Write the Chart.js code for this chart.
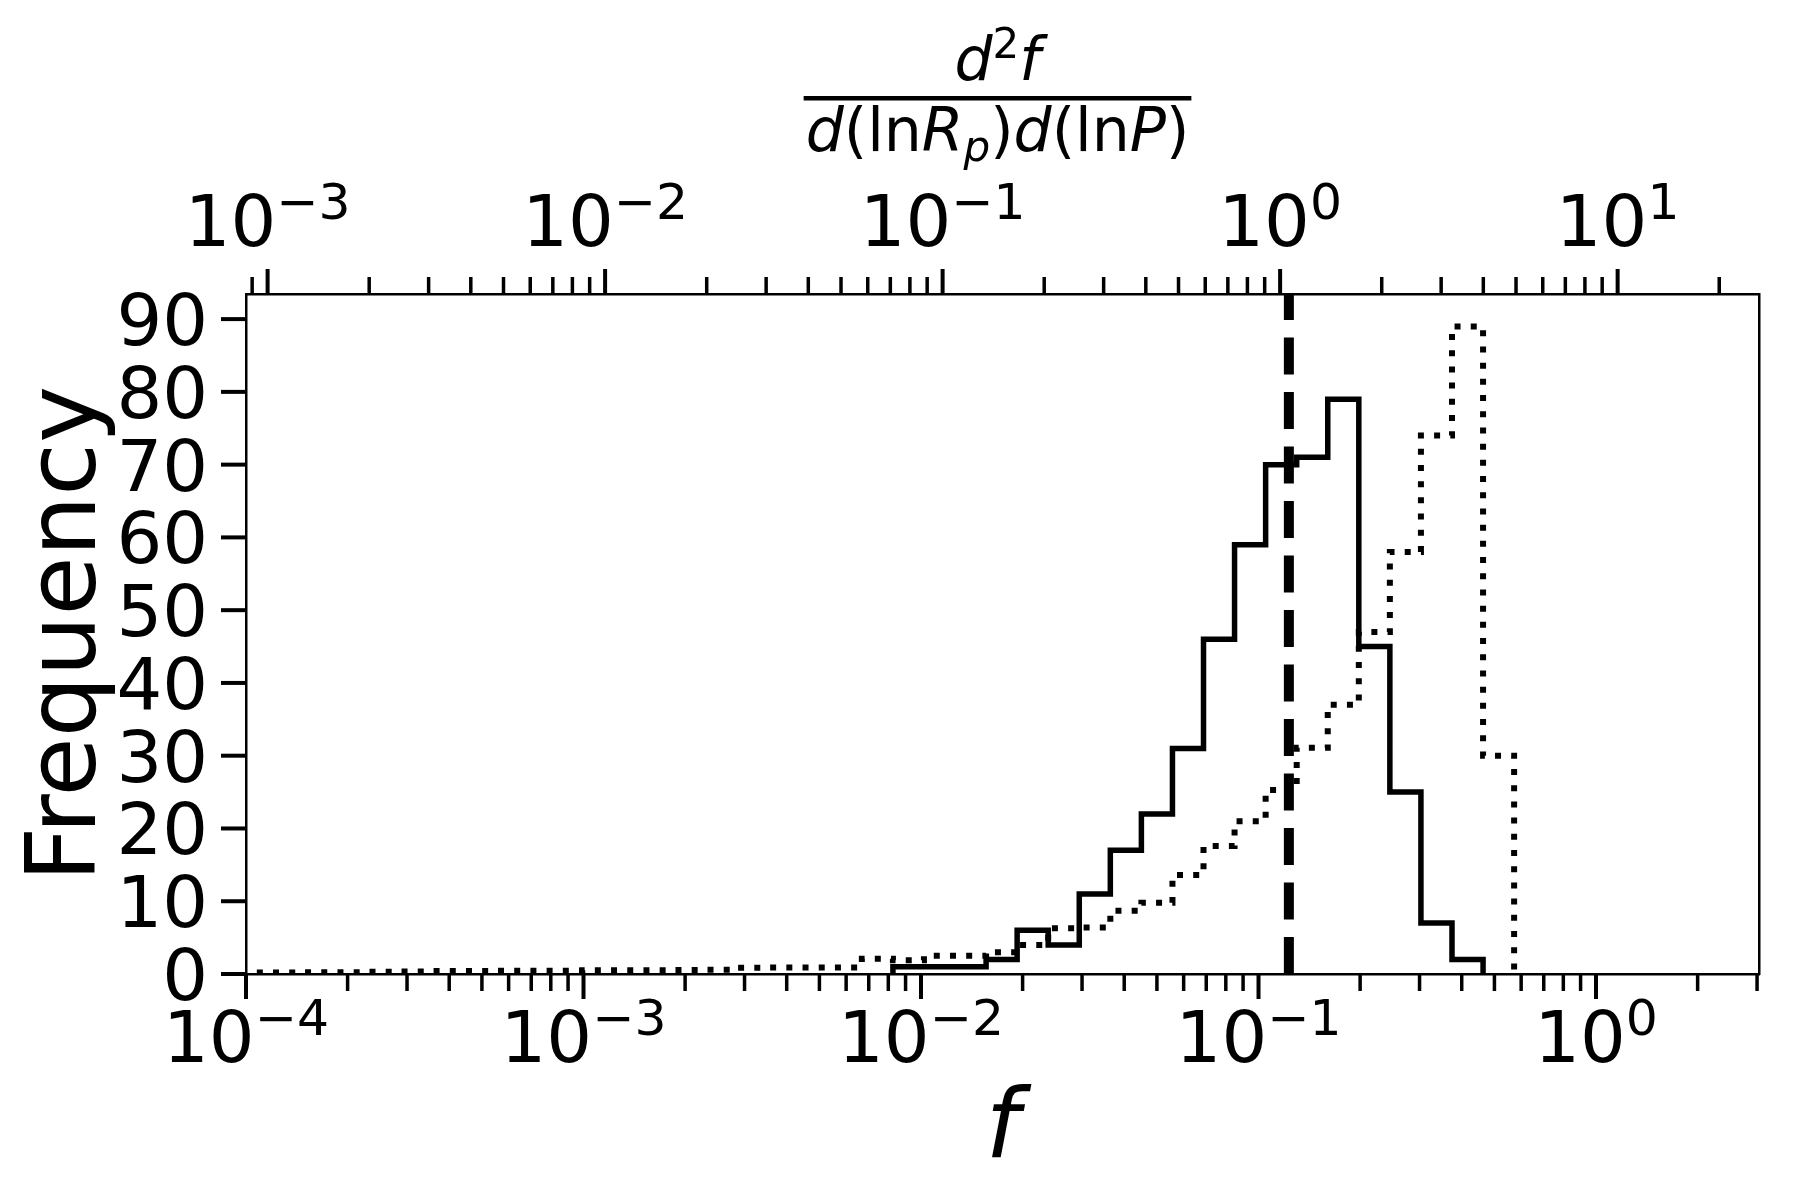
<!DOCTYPE html>
<html>
<head>
<meta charset="utf-8">
<script src="https://cdn.jsdelivr.net/npm/chart.js"></script>
<style>
  html, body { margin: 0; padding: 0; background: #ffffff; }
  #wrap { width: 1800px; height: 1200px; position: relative; background: #ffffff; }
  canvas { display: block; }
</style>
</head>
<body>
<div id="wrap"><canvas id="c" width="1800" height="1200"></canvas></div>
<script>
// ---------------- DATA ----------------
// logarithmic bin edges of f (42 edges -> 41 bins)
const binEdges = [
  9.64e-5, 1.192e-4, 1.473e-4, 1.821e-4, 2.250e-4, 2.781e-4, 3.437e-4, 4.249e-4,
  5.252e-4, 6.492e-4, 8.025e-4, 9.917e-4, 1.2257e-3, 1.5152e-3, 1.8728e-3, 2.3147e-3,
  2.861e-3, 3.537e-3, 4.372e-3, 5.404e-3, 6.679e-3, 8.256e-3, 1.0202e-2, 1.2612e-2,
  1.5589e-2, 1.9268e-2, 2.3814e-2, 2.9437e-2, 3.6384e-2, 4.497e-2, 5.559e-2, 6.871e-2,
  8.492e-2, 1.0498e-1, 1.2975e-1, 1.6037e-1, 1.9822e-1, 2.45e-1, 3.0283e-1, 3.7431e-1,
  4.627e-1, 5.7188e-1
];
// solid histogram (counts per bin, null = no bin drawn)
const solidCounts = [
  null, null, null, null, null, null, null, null, null, null, null,
  null, null, null, null, null, null, null, null, null, null,
  1, 1, 1, 2, 6, 4, 11, 17, 22, 31, 46, 59, 70, 71, 79, 45, 25, 7, 2,
  null
];
// dotted histogram (weighted counts per bin)
const dottedCounts = [
  0.2, 0.2, 0.25, 0.25, 0.3, 0.35, 0.4, 0.4, 0.45, 0.45, 0.45, 0.5, 0.5, 0.5, 0.55, 0.6,
  0.85, 0.9, 0.9, 0.9,
  2.1, 1.9, 2.5, 2.5, 3.0, 4.0, 6.3, 6.4, 8.7, 9.8, 13.6, 17.6, 21.0, 25.3, 31.1, 37.0,
  47, 58, 74, 89, 30
];
// vertical dashed reference line (in f)
const dashedLineF = [0.123];

// axis ranges
const xRange = [1e-4, 3.04];
const topScaleFactor = 8.63;      // top axis value = f * factor
const yRange = [0, 93.45];

// tick labels
const yTicks = [0, 10, 20, 30, 40, 50, 60, 70, 80, 90];
const bottomMajorTicks = [1e-4, 1e-3, 1e-2, 1e-1, 1e0];
const bottomTickExponents = ['\u22124', '\u22123', '\u22122', '\u22121', '0'];
const topMajorTicks = [1e-3, 1e-2, 1e-1, 1e0, 1e1];
const topTickExponents = ['\u22123', '\u22122', '\u22121', '0', '1'];
const yAxisTitle = 'Frequency';
const xAxisTitle = 'f';

// ---------------- helpers ----------------
function stepPoints(edges, counts) {
  let i0 = -1, i1 = -1;
  for (let i = 0; i < counts.length; i++) {
    if (counts[i] !== null && counts[i] !== undefined) { if (i0 < 0) i0 = i; i1 = i; }
  }
  const pts = [{ x: edges[i0], y: 0 }];
  for (let i = i0; i <= i1; i++) pts.push({ x: edges[i], y: counts[i] });
  pts.push({ x: edges[i1 + 1], y: counts[i1] });
  pts.push({ x: edges[i1 + 1], y: 0 });
  return pts;
}

const FONT = '"DejaVu Sans"';

function drawPow10(ctx, x, baseY, exp, size) {
  const small = size * 0.7;
  ctx.font = size + 'px ' + FONT;
  const w1 = ctx.measureText('10').width;
  ctx.font = small + 'px ' + FONT;
  const w2 = ctx.measureText(exp).width;
  const x0 = x - (w1 + w2) / 2;
  ctx.textAlign = 'left';
  ctx.textBaseline = 'alphabetic';
  ctx.font = size + 'px ' + FONT;
  ctx.fillText('10', x0, baseY);
  ctx.font = small + 'px ' + FONT;
  ctx.fillText(exp, x0 + w1, baseY - 0.38 * size);
}

function runFont(run, size) {
  const s = size * (run[2] || 1);
  return (run[1] === 'i' ? 'italic ' : '') + s + 'px ' + FONT;
}
function runsWidth(ctx, runs, size) {
  let w = 0;
  for (const r of runs) { ctx.font = runFont(r, size); w += ctx.measureText(r[0]).width; }
  return w;
}
function drawRuns(ctx, runs, cx, baseY, size) {
  const w = runsWidth(ctx, runs, size);
  let x = cx - w / 2;
  ctx.textAlign = 'left';
  ctx.textBaseline = 'alphabetic';
  for (const r of runs) {
    ctx.font = runFont(r, size);
    ctx.fillText(r[0], x, baseY + (r[3] || 0));
    x += ctx.measureText(r[0]).width;
  }
  return w;
}

function minorValues(min, max) {
  const out = [];
  const d0 = Math.floor(Math.log10(min)), d1 = Math.ceil(Math.log10(max));
  for (let d = d0; d <= d1; d++) {
    for (let m = 2; m <= 9; m++) {
      const v = m * Math.pow(10, d);
      if (v >= min && v <= max) out.push(v);
    }
  }
  return out;
}

// ---------------- plugin: matplotlib-like ticks & labels ----------------
const mplAxes = {
  id: 'mplAxes',
  afterDraw(chart) {
    const ctx = chart.ctx;
    const ca = chart.chartArea;
    const xs = chart.scales.x, xt = chart.scales.x2, ys = chart.scales.y;
    const MAJ = 25, MIN = 17;
    ctx.save();
    ctx.strokeStyle = '#000';
    ctx.fillStyle = '#000';
    ctx.lineCap = 'butt';

    function vtick(px, y0, len, w) {
      ctx.lineWidth = w;
      ctx.beginPath(); ctx.moveTo(px, y0); ctx.lineTo(px, y0 + len); ctx.stroke();
    }
    // bottom ticks
    for (const v of bottomMajorTicks) vtick(xs.getPixelForValue(v), ca.bottom, MAJ, 4);
    for (const v of minorValues(xs.min, xs.max)) vtick(xs.getPixelForValue(v), ca.bottom, MIN, 3.5);
    // top ticks
    for (const v of topMajorTicks) vtick(xt.getPixelForValue(v), ca.top, -MAJ, 4);
    for (const v of minorValues(xt.min, xt.max)) vtick(xt.getPixelForValue(v), ca.top, -MIN, 3.5);
    // left ticks
    ctx.lineWidth = 4;
    for (const v of yTicks) {
      const py = ys.getPixelForValue(v);
      ctx.beginPath(); ctx.moveTo(ca.left, py); ctx.lineTo(ca.left - MAJ, py); ctx.stroke();
    }

    // y tick labels
    ctx.font = '72px ' + FONT;
    ctx.textAlign = 'right';
    ctx.textBaseline = 'alphabetic';
    for (const v of yTicks) {
      const py = ys.getPixelForValue(v);
      ctx.fillText(String(v), ca.left - MAJ - 13, py + 26);
    }
    // bottom tick labels
    bottomMajorTicks.forEach((v, i) => {
      drawPow10(ctx, xs.getPixelForValue(v), ca.bottom + 88, bottomTickExponents[i], 72);
    });
    // top tick labels
    topMajorTicks.forEach((v, i) => {
      drawPow10(ctx, xt.getPixelForValue(v), ca.top - 48, topTickExponents[i], 72);
    });

    // x axis title (italic f)
    ctx.font = 'italic 96px ' + FONT;
    ctx.textAlign = 'center';
    ctx.textBaseline = 'alphabetic';
    ctx.fillText(xAxisTitle, (ca.left + ca.right) / 2, 1157);

    // y axis title
    ctx.save();
    ctx.translate(95, (ca.top + ca.bottom) / 2);
    ctx.rotate(-Math.PI / 2);
    ctx.font = '96px ' + FONT;
    ctx.textAlign = 'center';
    ctx.fillText(yAxisTitle, 0, 0);
    ctx.restore();

    // top axis title: fraction d^2 f / (d(ln R_p) d(ln P))
    const cx = 997.5, fs = 60;
    const num = [['d', 'i'], ['2', 'n', 0.7, -22], ['f', 'i']];
    const den = [['d', 'i'], ['(', 'n'], ['ln', 'n'], ['R', 'i'], ['p', 'i', 0.7, 10], [')', 'n'],
                 ['d', 'i'], ['(', 'n'], ['ln', 'n'], ['P', 'i'], [')', 'n']];
    drawRuns(ctx, num, cx, 80, fs);
    const dw = drawRuns(ctx, den, cx, 151, fs);
    ctx.fillRect(cx - dw / 2 - 2, 96, dw + 4, 4.5);
    ctx.restore();
  }
};

// ---------------- chart ----------------
const ctx = document.getElementById('c').getContext('2d');
const hiddenAxis = (extra) => Object.assign({
  ticks: { display: false },
  grid: { display: false, drawTicks: false },
  border: { display: true, color: '#000', width: 2.5 },
  title: { display: false }
}, extra);

new Chart(ctx, {
  type: 'line',
  data: {
    datasets: [
      {
        label: 'reference',
        data: [{ x: dashedLineF[0], y: yRange[0] }, { x: dashedLineF[0], y: yRange[1] }],
        borderColor: '#000', borderWidth: 10, borderDash: [37, 17.5],
        pointRadius: 0, fill: false, xAxisID: 'x', yAxisID: 'y'
      },
      {
        label: 'solid',
        data: stepPoints(binEdges, solidCounts),
        borderColor: '#000', borderWidth: 5.5, stepped: 'before',
        borderJoinStyle: 'miter', pointRadius: 0, fill: false, xAxisID: 'x', yAxisID: 'y'
      },
      {
        label: 'dotted',
        data: stepPoints(binEdges, dottedCounts),
        borderColor: '#000', borderWidth: 6, borderDash: [6, 10.2], stepped: 'before',
        borderJoinStyle: 'miter', pointRadius: 0, fill: false, xAxisID: 'x', yAxisID: 'y'
      }
    ]
  },
  options: {
    responsive: false,
    maintainAspectRatio: false,
    devicePixelRatio: 1,
    animation: false,
    events: [],
    layout: { padding: { left: 246, right: 41, top: 294, bottom: 226 } },
    plugins: { legend: { display: false }, tooltip: { enabled: false }, title: { display: false } },
    scales: {
      x: hiddenAxis({ type: 'logarithmic', position: 'bottom', min: xRange[0], max: xRange[1] }),
      x2: hiddenAxis({ type: 'logarithmic', position: 'top',
                       min: xRange[0] * topScaleFactor, max: xRange[1] * topScaleFactor }),
      y: hiddenAxis({ type: 'linear', position: 'left', min: yRange[0], max: yRange[1] }),
      y2: hiddenAxis({ type: 'linear', position: 'right', min: yRange[0], max: yRange[1] })
    }
  },
  plugins: [mplAxes]
});
</script>
</body>
</html>
